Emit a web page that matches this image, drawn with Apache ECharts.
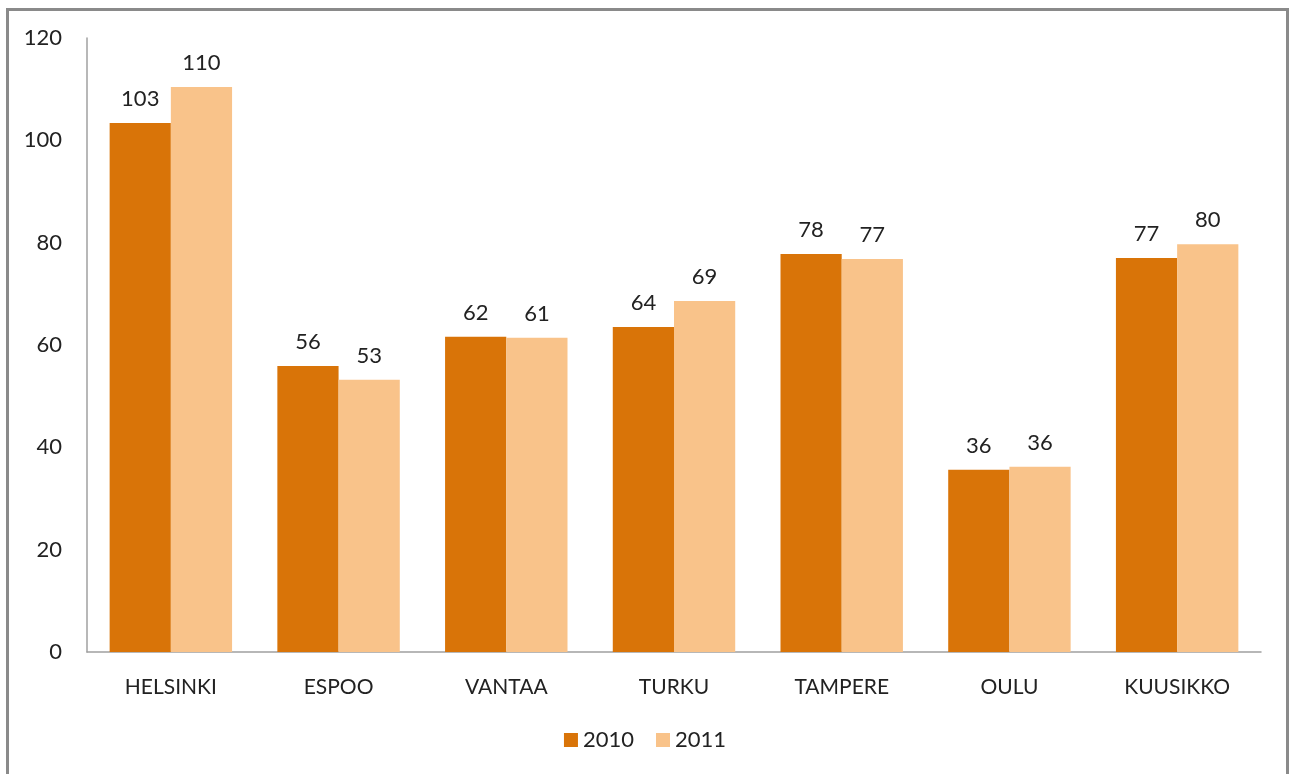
<!DOCTYPE html>
<html>
<head>
<meta charset="utf-8">
<script src="https://cdn.jsdelivr.net/npm/echarts@6/dist/echarts.min.js"></script>
<style>
html,body{margin:0;padding:0;background:#fff;}
#c{width:1290px;height:774px;}
</style>
</head>
<body>
<div id="c"></div>
<script>
const categories = ['HELSINKI','ESPOO','VANTAA','TURKU','TAMPERE','OULU','KUUSIKKO'];
const values2010 = [103.4, 55.9, 61.6, 63.5, 77.8, 35.6, 77.0];
const values2011 = [110.4, 53.2, 61.4, 68.6, 76.8, 36.2, 79.7];
const yTicks = [0, 20, 40, 60, 80, 100, 120];

const font = 'Lato, "Open Sans", sans-serif';
const chart = echarts.init(document.getElementById('c'));
const lbl = {
  show: true, position: 'top', distance: 13,
  fontFamily: font, fontSize: 22, color: '#222',
  formatter: p => Math.round(p.value)
};
chart.setOption({
  animation: false,
  graphic: [{
    type: 'rect', shape: {x: 7.5, y: 9.5, width: 1280, height: 800},
    style: {fill: 'none', stroke: '#8a8a8a', lineWidth: 3}
  }],
  grid: {left: 87, right: 29, top: 38, bottom: 122},
  legend: {
    bottom: 18, left: 'center', itemWidth: 14, itemHeight: 14, itemGap: 22,
    icon: 'rect',
    textStyle: {fontFamily: font, fontSize: 22, color: '#222'},
    data: ['2010', '2011']
  },
  xAxis: {
    type: 'category', data: categories,
    axisLine: {lineStyle: {color: '#a0a0a0', width: 1.5}},
    axisTick: {show: false},
    axisLabel: {fontFamily: font, fontSize: 21, color: '#222', margin: 25}
  },
  yAxis: {
    type: 'value', min: yTicks[0], max: yTicks[yTicks.length - 1], interval: 20,
    axisLine: {show: true, lineStyle: {color: '#a0a0a0', width: 1.5}},
    axisTick: {show: false},
    splitLine: {show: false},
    axisLabel: {fontFamily: font, fontSize: 22, color: '#222', margin: 25}
  },
  series: [
    {name: '2010', type: 'bar', data: values2010, barGap: '0%', barCategoryGap: '27%',
     itemStyle: {color: '#D97408'}, label: lbl},
    {name: '2011', type: 'bar', data: values2011, barGap: '0%', barCategoryGap: '27%',
     itemStyle: {color: '#F9C38A'}, label: lbl}
  ]
});
</script>
</body>
</html>
